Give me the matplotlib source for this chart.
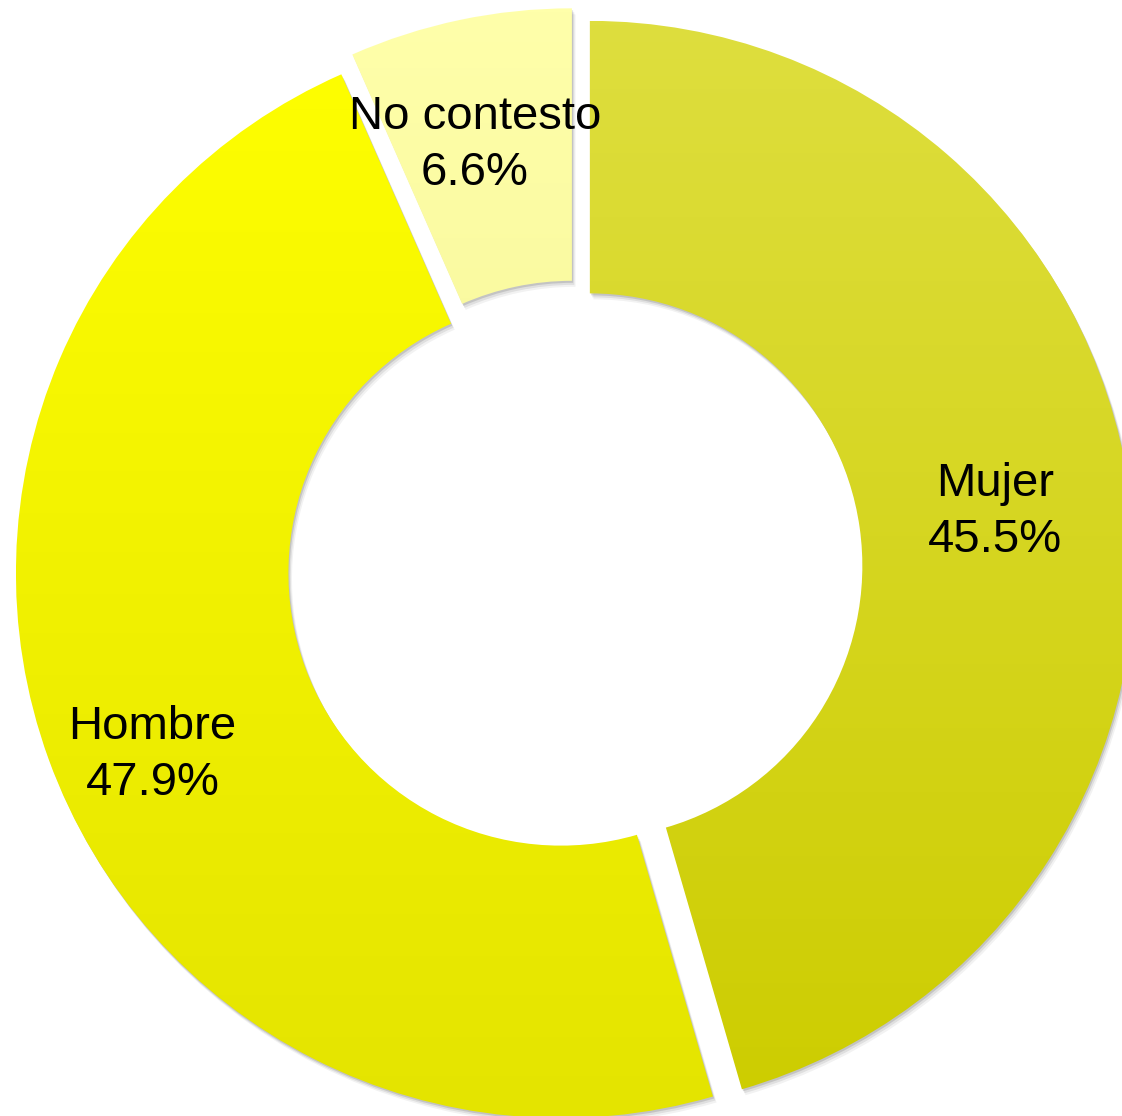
import numpy as np
import matplotlib.pyplot as plt
from matplotlib.patches import Wedge
from matplotlib.colors import LinearSegmentedColormap

labels = ['Mujer', 'Hombre', 'No contesto']
values = [45.5, 47.9, 6.6]
top_colors = ['#DEDE3E', '#FFFF00', '#FFFFAA']
bottom_colors = ['#CDCD00', '#E4E400', '#ECEC88']

W, H = 1122, 1116
cx, cy = 575, H - 568
R = 545
ring = 0.50
gap = 15
label_r = [0.75, 0.82, 0.77]
label_da = [-0.5, 4.0, 1.5]

fig = plt.figure(figsize=(W / 100, H / 100), dpi=100)
ax = fig.add_axes([0, 0, 1, 1])

wedges, _ = ax.pie(values, startangle=90, counterclock=False, radius=R,
                   center=(cx, cy), explode=[gap] * 3,
                   wedgeprops=dict(width=R * ring, linewidth=0),
                   colors=top_colors, frame=True)

for i, w in enumerate(wedges):
    # soft shadow
    for k, a in zip([6, 4, 2], [0.05, 0.08, 0.12]):
        sh = Wedge((w.center[0] + k * 0.6, w.center[1] - k), w.r, w.theta1, w.theta2,
                   width=w.width, facecolor='black', alpha=a, linewidth=0, zorder=0.5)
        ax.add_patch(sh)
    w.set_zorder(1)
    # vertical gradient fill clipped to the wedge
    cmap = LinearSegmentedColormap.from_list('g%d' % i, [bottom_colors[i], top_colors[i]])
    x0, y0 = w.center[0] - w.r, w.center[1] - w.r
    grad = np.linspace(0, 1, 256).reshape(-1, 1)
    im = ax.imshow(grad, cmap=cmap, origin='lower', aspect='auto',
                   extent=[x0, x0 + 2 * w.r, y0, y0 + 2 * w.r], zorder=2)
    im.set_clip_path(w)
    w.set_facecolor('none')

    mid = np.deg2rad((w.theta1 + w.theta2) / 2 + label_da[i])
    tx = w.center[0] + label_r[i] * R * np.cos(mid)
    ty = w.center[1] + label_r[i] * R * np.sin(mid)
    ax.text(tx, ty, '%s\n%.1f%%' % (labels[i], values[i]), ha='center', va='center',
            fontsize=34, family='Liberation Sans', color='black', zorder=5,
            linespacing=1.35)

ax.set_xlim(0, W)
ax.set_ylim(0, H)
ax.set_aspect('equal')
ax.axis('off')
fig.savefig('out.png', dpi=100, facecolor='white')
